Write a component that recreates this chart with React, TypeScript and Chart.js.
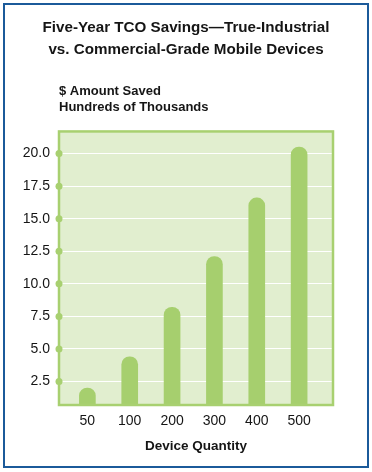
import React, { useEffect, useRef } from "react";
import { Chart, registerables } from "chart.js";

Chart.register(...registerables);

const titleLines = ["Five-Year TCO Savings\u2014True-Industrial", "vs. Commercial-Grade Mobile Devices"];
const yTitleLines = ["$ Amount Saved", "Hundreds of Thousands"];
const xTitle = "Device Quantity";
const deviceLabels = ["50", "100", "200", "300", "400", "500"];
const savings = [2.0, 4.4, 8.2, 12.1, 16.6, 20.5];
const yTickValues = [2.5, 5.0, 7.5, 10.0, 12.5, 15.0, 17.5, 20.0];

const FONT = "'Liberation Sans', Arial, Helvetica, sans-serif";
const GREEN = "#a8d070";
const BAR = "#a6cf6e";
const BG = "#e1eecf";

const framePlugin = {
  id: "frame",
  beforeDraw(chart: any) {
    const { ctx, chartArea } = chart;
    ctx.save();
    ctx.fillStyle = BG;
    ctx.fillRect(chartArea.left, chartArea.top, chartArea.right - chartArea.left, chartArea.bottom - chartArea.top);
    ctx.restore();
  },
  afterDraw(chart: any) {
    const { ctx, chartArea } = chart;
    const ys = chart.scales.y;
    ctx.save();
    ctx.strokeStyle = GREEN;
    ctx.lineWidth = 2.5;
    ctx.strokeRect(chartArea.left, chartArea.top, chartArea.right - chartArea.left, chartArea.bottom - chartArea.top);
    ctx.fillStyle = GREEN;
    for (const v of yTickValues) {
      const py = ys.getPixelForValue(v);
      ctx.beginPath();
      ctx.arc(chartArea.left, py, 3.5, 0, Math.PI * 2);
      ctx.fill();
    }
    ctx.restore();
  },
};

export default function App() {
  const ref = useRef<HTMLCanvasElement | null>(null);
  useEffect(() => {
    if (!ref.current) return;
    const chart = new Chart(ref.current, {
      type: "bar",
      data: {
        datasets: [
          {
            data: savings.map((v, i) => ({ x: i, y: v })),
            backgroundColor: BAR,
            borderWidth: 0,
            barThickness: 16,
            borderRadius: { topLeft: 8, topRight: 8, bottomLeft: 0, bottomRight: 0 },
            borderSkipped: false,
          } as any,
        ],
      },
      options: {
        animation: false,
        responsive: false,
        devicePixelRatio: 1,
        layout: { padding: { top: 0, left: 0, right: 0, bottom: 17.6 } },
        plugins: {
          legend: { display: false },
          tooltip: { enabled: false },
          title: {
            display: true,
            text: titleLines,
            color: "#151515",
            font: { family: FONT, size: 15.2, weight: "bold", lineHeight: 1.42 },
            padding: { top: 17, bottom: 11.5 },
          },
          subtitle: {
            display: true,
            text: yTitleLines,
            align: "start",
            fullSize: false,
            color: "#151515",
            font: { family: FONT, size: 13, weight: "bold", lineHeight: 1.28 },
            padding: { top: 11, bottom: 15.5 },
          } as any,
        },
        scales: {
          x: {
            type: "linear",
            offset: false,
            min: -0.67,
            max: 5.8,
            afterBuildTicks: (s: any) => {
              s.ticks = deviceLabels.map((_, i) => ({ value: i }));
            },
            ticks: {
              color: "#151515",
              font: { family: FONT, size: 14 },
              padding: 8,
              maxRotation: 0,
              autoSkip: false,
              callback: (v: any) => deviceLabels[Math.round(Number(v))] ?? "",
            },
            grid: { display: false, drawTicks: false, offset: false },
            border: { display: false },
            title: {
              display: true,
              text: xTitle,
              color: "#151515",
              font: { family: FONT, size: 13.5, weight: "bold" },
              padding: { top: 0.4, bottom: 0 },
            },
          },
          y: {
            min: 0.7,
            max: 21.7,
            afterBuildTicks: (s: any) => {
              s.ticks = yTickValues.map((v) => ({ value: v }));
            },
            afterFit: (s: any) => {
              s.width = 59;
            },
            ticks: {
              color: "#151515",
              font: { family: FONT, size: 14 },
              padding: 9,
              callback: (v: any) => Number(v).toFixed(1),
            },
            grid: { color: "#ffffff", lineWidth: 1, drawTicks: false },
            border: { display: false },
          },
          yRight: {
            type: "linear",
            position: "right",
            display: true,
            min: 0,
            max: 1,
            afterFit: (s: any) => {
              s.width = 39;
            },
            ticks: { display: false },
            grid: { display: false, drawTicks: false },
            border: { display: false },
          },
        },
      } as any,
      plugins: [framePlugin],
    });
    return () => chart.destroy();
  }, []);

  return (
    <div style={{ position: "fixed", left: 0, top: 0, width: 372, height: 472, background: "#fff" }}>
      <canvas ref={ref} width={372} height={472} style={{ position: "absolute", left: 0, top: 0, width: 372, height: 472 }} />
      <div
        style={{
          position: "absolute",
          left: 3,
          top: 3,
          width: 366,
          height: 465,
          boxSizing: "border-box",
          border: "2px solid #1b5a9a",
          pointerEvents: "none",
        }}
      />
    </div>
  );
}
